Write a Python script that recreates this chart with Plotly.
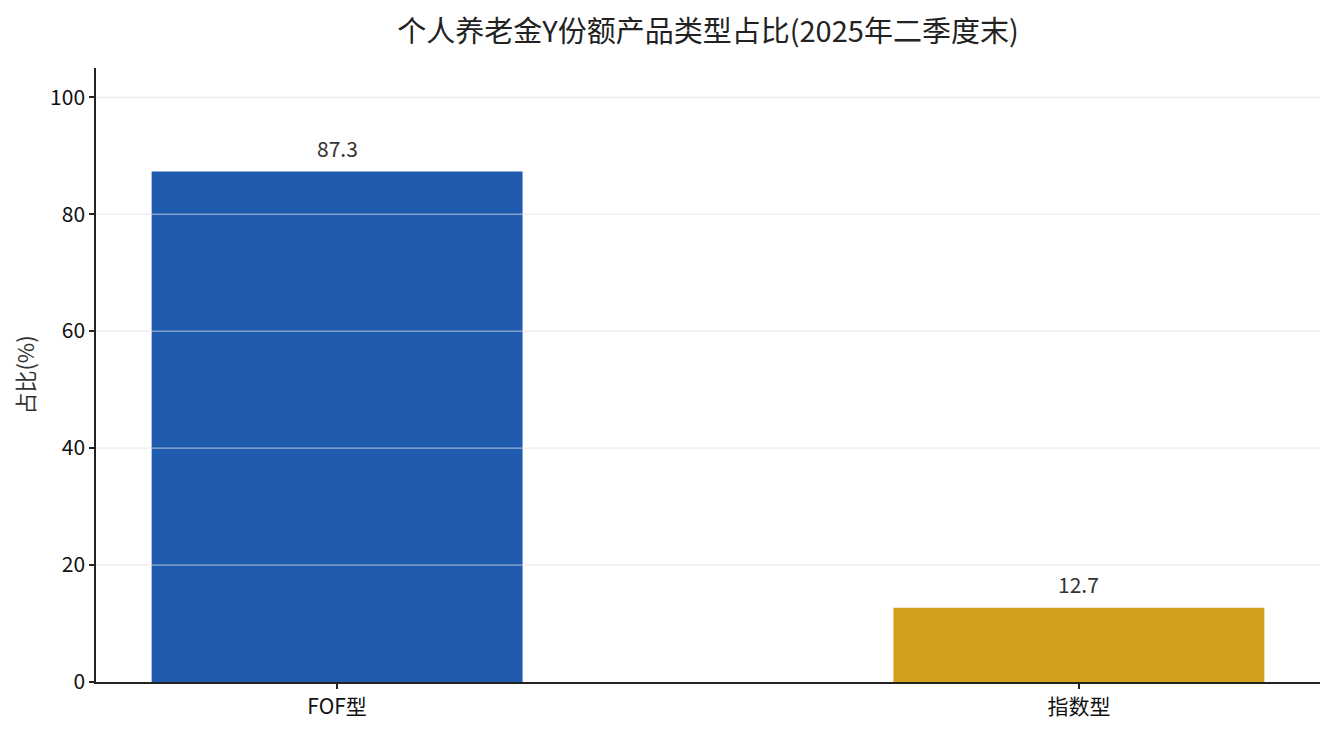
import plotly.graph_objects as go

# data
categories = ["FOF型", "指数型"]
shares = [87.3, 12.7]
bar_colors = ["#1f5baf", "#d4a01c"]
y_ticks = [0, 20, 40, 60, 80, 100]

FONT = "Noto Sans CJK SC"

fig = go.Figure()

fig.add_trace(go.Bar(
    x=categories,
    y=shares,
    width=0.5,
    marker=dict(color=bar_colors, line=dict(width=0)),
    hoverinfo="x+y",
    showlegend=False,
))

# value labels above the bars
for cat, val in zip(categories, shares):
    fig.add_annotation(x=cat, y=val, text=f"{val:.1f}", showarrow=False,
                       yanchor="bottom", yshift=7,
                       font=dict(family=FONT, size=21, color="#333333"))

# grid lines drawn above the bars (like the original)
for t in y_ticks[1:]:
    fig.add_shape(type="line", xref="paper", x0=0, x1=1, yref="y", y0=t, y1=t,
                  line=dict(color="rgba(225,225,225,0.8)", width=1), layer="above")

# page has an 8px body margin, margins below compensate for it
fig.update_layout(
    title=dict(text="个人养老金Y份额产品类型占比(2025年二季度末)", x=0.5, xref="paper",
               xanchor="center", y=0.968, yanchor="middle",
               font=dict(family=FONT, size=29, color="#222222")),
    width=1335, height=734,
    margin=dict(l=88, r=23, t=60, b=60),
    plot_bgcolor="white",
    paper_bgcolor="white",
    font=dict(family=FONT, size=21, color="#111111"),
    xaxis=dict(
        range=[-0.325, 1.325],
        showline=True, linecolor="#222222", linewidth=1.5,
        ticks="outside", ticklen=5, tickwidth=1.5, tickcolor="#222222",
        showgrid=False,
        tickfont=dict(family=FONT, size=21, color="#111111"),
    ),
    yaxis=dict(
        range=[0, 105],
        tickvals=y_ticks,
        showline=True, linecolor="#222222", linewidth=1.5,
        ticks="outside", ticklen=5, tickwidth=1.5, tickcolor="#222222",
        showgrid=False, zeroline=False,
        tickfont=dict(family=FONT, size=21, color="#111111"),
        title=dict(text="占比(%)", standoff=14, font=dict(family=FONT, size=22, color="#333333")),
    ),
)

fig.write_html("out.html")
